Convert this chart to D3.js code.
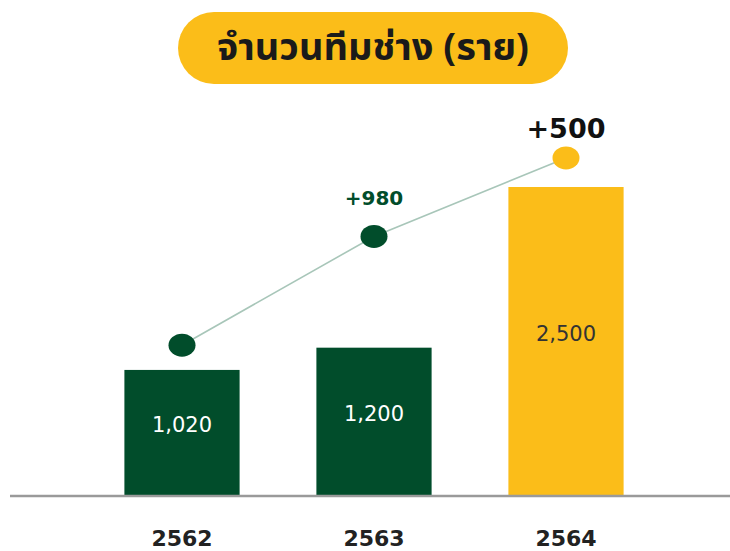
<!DOCTYPE html>
<html>
<head>
<meta charset="utf-8">
<script src="https://cdn.jsdelivr.net/npm/d3@7"></script>
<style>
  body { margin: 0; background: #fff; }
  svg { display: block; font-family: "DejaVu Sans", sans-serif; }
</style>
</head>
<body>
<svg id="chart" width="730" height="551"></svg>
<script>
// chart data
var title = "จำนวนทีมช่าง (ราย)";
var years = ["2562", "2563", "2564"];
var technicians = [1020, 1200, 2500];
var trend = [1220, 2100, 2735];          // dots of the line
var trendLabels = ["", "+980", "+500"];

var svg = d3.select("#chart");
var green = "#014d2b", yellow = "#fbbd19";

// set the dimensions
var margin = {top: 187, bottom: 55, left: 86, right: 68},
    width = +svg.attr("width"),
    height = +svg.attr("height"),
    baseY = height - margin.bottom;

var x = d3.scaleBand()
    .domain(years)
    .range([margin.left, width - margin.right])
    .paddingInner(0.4)
    .paddingOuter(0.2);

var y = d3.scaleLinear()
    .domain([0, d3.max(technicians)])
    .range([baseY, margin.top]);

var last = years.length - 1;
function barColor(d, i) { return i == last ? yellow : green; }
function cx(d, i) { return x(years[i]) + x.bandwidth() / 2; }

// title pill
var pill = svg.append("g").attr("transform", "translate(373,48)");
pill.append("rect")
    .attr("x", -195).attr("y", -36)
    .attr("width", 390).attr("height", 72)
    .attr("rx", 36)
    .style("fill", yellow);
pill.append("text")
    .attr("text-anchor", "middle")
    .attr("dy", "0.32em")
    .style("font-family", "\"Noto Sans Thai\", \"Noto Sans\", sans-serif")
    .style("font-size", "38px")
    .style("font-weight", "bold")
    .style("fill", "#1a1a1a")
    .text(title);

// bars
svg.selectAll(".bar")
    .data(technicians)
    .enter().append("rect")
    .attr("class", "bar")
    .attr("x", function(d, i) { return x(years[i]); })
    .attr("width", x.bandwidth())
    .attr("y", function(d) { return y(d); })
    .attr("height", function(d) { return baseY - y(d); })
    .style("fill", barColor);

// bar values
svg.selectAll(".val")
    .data(technicians)
    .enter().append("text")
    .attr("class", "val")
    .attr("x", cx)
    .attr("y", function(d) { return (y(d) + baseY) / 2 - 8; })
    .attr("text-anchor", "middle")
    .attr("dy", "0.35em")
    .style("font-size", "21px")
    .style("fill", function(d, i) { return i == last ? "#333" : "#fff"; })
    .text(d3.format(","));

// baseline
svg.append("line")
    .attr("x1", 10).attr("x2", width)
    .attr("y1", baseY).attr("y2", baseY)
    .style("stroke", "#9a9a9a")
    .style("stroke-width", 2.5);

// x labels
svg.append("g")
    .attr("transform", "translate(0," + baseY + ")")
    .call(d3.axisBottom(x).tickSize(0).tickPadding(34))
    .call(function(g) { g.select(".domain").remove(); })
    .selectAll("text")
    .style("font-size", "22px")
    .style("font-weight", "bold")
    .style("fill", "#222")
    .style("font-family", "\"DejaVu Sans\", sans-serif");

// trend line
var line = d3.line()
    .x(cx)
    .y(function(d) { return y(d); });

svg.append("path")
    .datum(trend)
    .attr("d", line)
    .style("fill", "none")
    .style("stroke", "#a8c6b9")
    .style("stroke-width", 1.6);

svg.selectAll(".dot")
    .data(trend)
    .enter().append("ellipse")
    .attr("class", "dot")
    .attr("cx", cx)
    .attr("cy", function(d) { return y(d); })
    .attr("rx", 13.5)
    .attr("ry", 11.5)
    .style("fill", barColor);

svg.selectAll(".tlab")
    .data(trend)
    .enter().append("text")
    .attr("class", "tlab")
    .attr("x", cx)
    .attr("y", function(d, i) { return y(d) - (i == last ? 20 : 31); })
    .attr("text-anchor", "middle")
    .style("font-size", function(d, i) { return i == last ? "27px" : "20px"; })
    .style("font-weight", "bold")
    .style("fill", function(d, i) { return i == last ? "#111" : green; })
    .text(function(d, i) { return trendLabels[i]; });
</script>
</body>
</html>
